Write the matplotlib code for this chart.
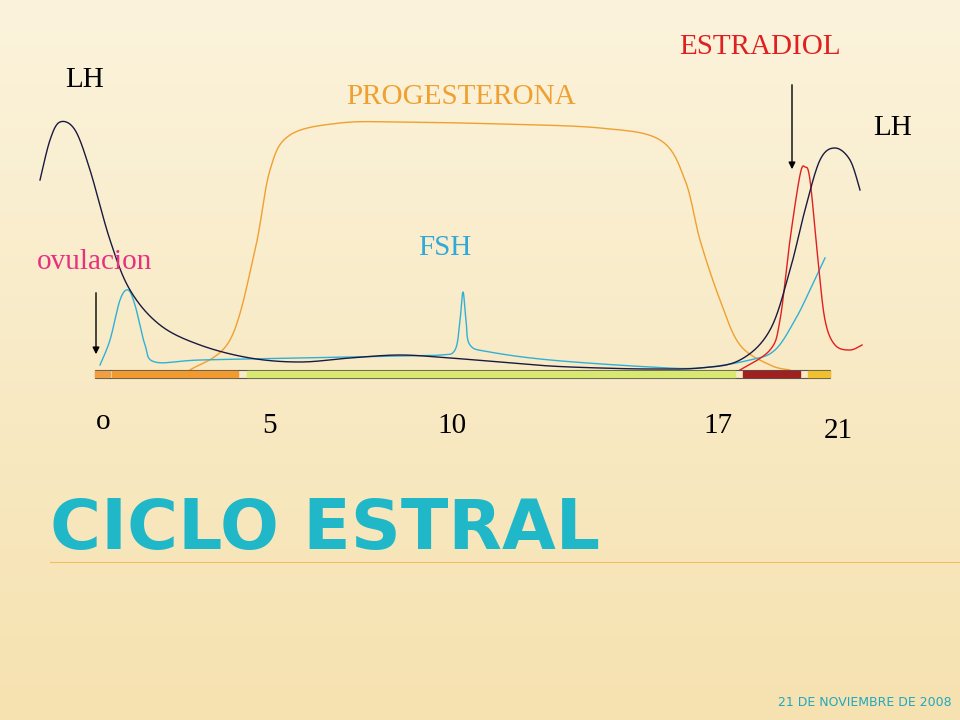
import matplotlib
matplotlib.use("Agg")
import matplotlib.pyplot as plt
import numpy as np

# curves in slide coordinates (x px, y px from top)
lh_x = [40,50,60,75,90,110,130,160,200,250,300,350,400,450,500,550,600,650,700,740,770,790,805,820,835,850,860]
lh_y = [180,140,122,130,170,240,290,325,345,358,362,358,355,358,362,366,368,369,368,360,330,270,210,160,148,160,190]
prog_x = [190,230,255,270,290,340,400,500,600,660,685,700,720,740,770,790]
prog_y = [370,340,250,170,135,123,122,124,128,140,180,240,300,345,365,370]
fsh_x = [100,110,120,128,135,145,155,200,300,400,440,455,460,463,466,470,490,550,650,700,750,775,795,810,825]
fsh_y = [365,340,300,290,305,345,362,360,358,356,355,350,320,292,320,345,352,360,367,368,360,350,320,290,258]
est_x = [740,770,780,790,800,805,810,818,825,835,850,862]
est_y = [370,350,320,240,175,167,180,260,320,345,350,345]
bar_start = [95,112,247,743,808]
bar_end = [110,238,735,800,830]
bar_colors = ["#f0a040","#f09a30","#d8e870","#a02020","#f0c030"]
tick_labels = ["o","5","10","17","21"]
tick_x = [103,270,452,718,838]
tick_y = [422,426,426,426,431]

fig = plt.figure(figsize=(9.6,7.2), dpi=100)
ax = fig.add_axes([0,0,1,1])
ax.set_xlim(0,960); ax.set_ylim(720,0); ax.axis("off")
grad = np.linspace(0,1,256).reshape(-1,1)
ax.imshow(grad, extent=[0,960,720,0], cmap=matplotlib.colors.LinearSegmentedColormap.from_list("bg",["#fbf3dc","#f6e2b0"]), aspect="auto", zorder=0)

def smooth(xs, ys):
    pts = np.array([xs,ys],float).T
    out=[]
    P = np.vstack([pts[0],pts,pts[-1]])
    for i in range(1,len(P)-2):
        p0,p1,p2,p3 = P[i-1],P[i],P[i+1],P[i+2]
        for s in np.linspace(0,1,20,endpoint=False):
            out.append(0.5*((2*p1)+(-p0+p2)*s+(2*p0-5*p1+4*p2-p3)*s**2+(-p0+3*p1-3*p2+p3)*s**3))
    out.append(P[-2])
    out=np.array(out); return out[:,0], out[:,1]

for xs,ys,c in [(prog_x,prog_y,"#f0a030"),(fsh_x,fsh_y,"#30b0d8"),(est_x,est_y,"#e02020"),(lh_x,lh_y,"#1a1a40")]:
    a,b = smooth(xs,ys); ax.plot(a,b,color=c,lw=1,zorder=3)

ax.add_patch(plt.Rectangle((95,370),735,8,fill=False,ec="#555555",lw=0.8,zorder=4))
for s,e,c in zip(bar_start,bar_end,bar_colors):
    ax.add_patch(plt.Rectangle((s,371),e-s,6,color=c,zorder=4))
fs = 21
serif = "Liberation Serif"
for lab,x,y in zip(tick_labels,tick_x,tick_y):
    ax.text(x,y,lab,fontsize=fs,family=serif,ha="center",va="center")

ax.text(85,80,"LH",fontsize=fs,family=serif,ha="center",va="center")
ax.text(893,128,"LH",fontsize=fs,family=serif,ha="center",va="center")
ax.text(461,97,"PROGESTERONA",fontsize=fs,family=serif,ha="center",va="center",color="#f0a030")
ax.text(760,47,"ESTRADIOL",fontsize=fs,family=serif,ha="center",va="center",color="#e02020")
ax.text(445,248,"FSH",fontsize=fs,family=serif,ha="center",va="center",color="#30a8d8")
ax.text(95,262,"ovulacion",fontsize=fs,family=serif,ha="center",va="center",color="#e83080")
ax.annotate("",xy=(96,357),xytext=(96,290),arrowprops=dict(arrowstyle="-|>",color="black",lw=1))
ax.annotate("",xy=(792,172),xytext=(792,82),arrowprops=dict(arrowstyle="-|>",color="black",lw=1))
ax.text(50,530,"CICLO ESTRAL",fontsize=50,weight="bold",family="DejaVu Sans",color="#20b8c8",ha="left",va="center")
ax.plot([50,960],[562,562],color="#f0c060",lw=0.8)
ax.text(952,703,"21 DE NOVIEMBRE DE 2008",fontsize=9,color="#20a8c0",ha="right",va="center")
fig.savefig("out.png")
